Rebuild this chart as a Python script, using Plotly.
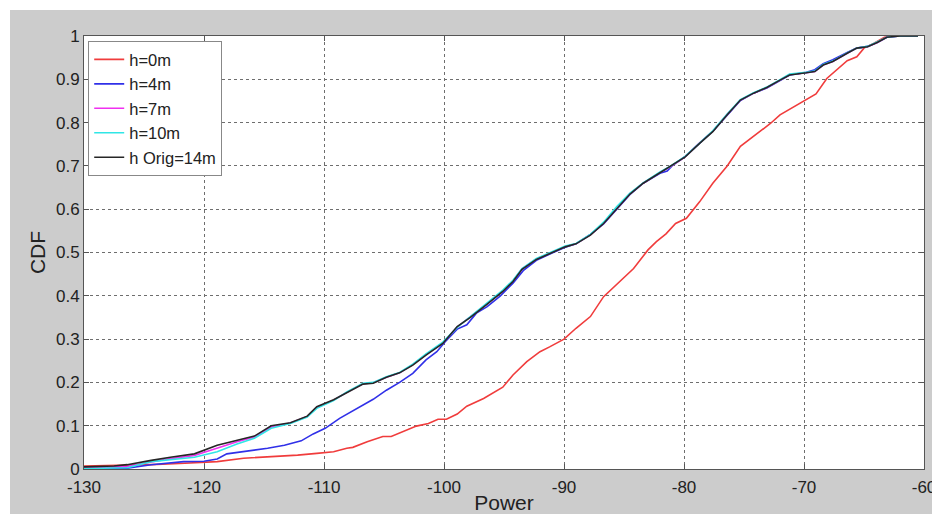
import plotly.graph_objects as go

# Received power and empirical CDF for each antenna height
power_h0 = [-130, -126.4, -124.4, -122.5, -120, -118.9, -116.7, -114.4, -112.2, -110.6,
            -109.2, -108.1, -107.6, -106.4, -105.1, -104.4, -103.4, -102.3, -101.3, -100.5,
            -99.8, -98.9, -98.1, -96.7, -95.1, -94.25, -93.1, -92, -91.2, -90,
            -89, -87.8, -86.7, -85.3, -84.2, -83, -82.3, -81.5, -80.7, -79.8,
            -78.7, -77.6, -76.4, -75.3, -74.1, -72.8, -72, -70.9, -69.8, -69,
            -68.1, -67.3, -66.4, -65.6, -65, -64.2, -63.3, -62.5, -60.5]
cdf_h0 = [0.007, 0.008, 0.01, 0.012, 0.015, 0.017, 0.025, 0.028, 0.032, 0.036,
          0.04, 0.048, 0.05, 0.063, 0.075, 0.075, 0.086, 0.099, 0.105, 0.115,
          0.115, 0.127, 0.145, 0.163, 0.189, 0.217, 0.248, 0.271, 0.282, 0.30,
          0.325, 0.352, 0.398, 0.435, 0.463, 0.506, 0.525, 0.543, 0.567, 0.579,
          0.617, 0.66, 0.70, 0.745, 0.771, 0.798, 0.818, 0.835, 0.852, 0.866,
          0.902, 0.921, 0.943, 0.952, 0.972, 0.983, 0.997, 1.0, 1.0]

power_h4 = [-130, -126.4, -124.4, -121.7, -120, -118.9, -118.1, -116.7, -114.7, -113.3,
            -111.9, -110.9, -109.9, -108.7, -107.3, -105.9, -104.8, -103.7, -102.6, -101.5,
            -100.6, -99.9, -98.9, -98.1, -97.3, -96.4, -95.3, -94.25, -93.4, -92.3,
            -90.9, -89.9, -89, -87.8, -86.7, -85.6, -84.5, -83.4, -82, -81.4,
            -81, -79.9, -78.7, -77.6, -76.4, -75.3, -74.2, -73.1, -72, -71.2,
            -69.8, -69.1, -68.4, -67.6, -66.4, -65.6, -64.7, -63.9, -63.1, -62, -60.5]
cdf_h4 = [0.002, 0.002, 0.01, 0.017, 0.018, 0.023, 0.035, 0.04, 0.048, 0.055,
          0.065, 0.081, 0.094, 0.117, 0.14, 0.161, 0.182, 0.2, 0.221, 0.252,
          0.271, 0.294, 0.323, 0.333, 0.36, 0.375, 0.4, 0.429, 0.458, 0.482,
          0.5, 0.512, 0.52, 0.542, 0.566, 0.6, 0.634, 0.66, 0.683, 0.688,
          0.70, 0.722, 0.753, 0.78, 0.817, 0.851, 0.868, 0.88, 0.897, 0.91,
          0.916, 0.922, 0.936, 0.945, 0.962, 0.972, 0.976, 0.985, 0.997, 1.0, 1.0]

power_h7_h10 = [-130, -126.4, -124.4, -122.8, -120.8, -118.9, -117.25, -115.8, -114.4, -112.8,
                -111.4, -110.6, -109.2, -108.1, -106.75, -105.9, -104.8, -103.7, -102.6, -101.5,
                -100.1, -98.9, -97.8, -96.4, -95.1, -94.25, -93.5, -92.3, -90.9, -89.9,
                -89, -87.8, -86.7, -85.6, -84.5, -83.4, -82, -81.2, -79.9, -78.7,
                -77.6, -76.4, -75.3, -74.2, -73.1, -72, -71.2, -69.8, -69.1, -68.4,
                -67.6, -66.4, -65.6, -64.7, -63.9, -63.1, -62, -60.5]
cdf_h7 = [0.003, 0.006, 0.016, 0.024, 0.031, 0.048, 0.063, 0.074, 0.097, 0.106,
          0.121, 0.142, 0.159, 0.177, 0.197, 0.199, 0.212, 0.222, 0.241, 0.264,
          0.291, 0.328, 0.351, 0.382, 0.411, 0.434, 0.462, 0.485, 0.502, 0.514,
          0.52, 0.541, 0.568, 0.603, 0.636, 0.66, 0.685, 0.697, 0.721, 0.753,
          0.78, 0.819, 0.852, 0.868, 0.881, 0.898, 0.911, 0.915, 0.918, 0.933,
          0.941, 0.96, 0.972, 0.975, 0.985, 0.997, 1.0, 1.0]
cdf_h10 = [0.001, 0.003, 0.017, 0.022, 0.027, 0.04, 0.058, 0.071, 0.094, 0.105,
           0.12, 0.14, 0.158, 0.178, 0.198, 0.2, 0.213, 0.223, 0.242, 0.266,
           0.293, 0.327, 0.352, 0.384, 0.413, 0.436, 0.463, 0.486, 0.503, 0.515,
           0.521, 0.542, 0.57, 0.606, 0.637, 0.661, 0.686, 0.698, 0.722, 0.754,
           0.781, 0.82, 0.853, 0.869, 0.882, 0.899, 0.912, 0.916, 0.919, 0.934,
           0.942, 0.961, 0.972, 0.976, 0.986, 0.997, 1.0, 1.0]

power_h14 = [-130, -127.5, -126.4, -125.2, -124.4, -122.8, -120.8, -118.9, -117.25, -115.8,
             -114.4, -112.8, -111.4, -110.6, -109.2, -108.1, -106.75, -105.9, -104.8, -103.7,
             -102.6, -101.5, -100.1, -98.9, -97.8, -96.4, -95.1, -94.25, -93.5, -92.3,
             -90.9, -89.9, -89, -87.8, -86.7, -85.6, -84.5, -83.4, -82, -81.2,
             -79.9, -78.7, -77.6, -76.4, -75.3, -74.2, -73.1, -72, -71.2, -69.8,
             -69.1, -68.4, -67.6, -66.4, -65.6, -64.7, -63.9, -63.1, -62, -60.5]
cdf_h14 = [0.005, 0.007, 0.01, 0.015, 0.02, 0.027, 0.035, 0.055, 0.067, 0.076,
           0.10, 0.107, 0.122, 0.144, 0.16, 0.176, 0.196, 0.198, 0.212, 0.222,
           0.24, 0.263, 0.29, 0.329, 0.35, 0.381, 0.41, 0.433, 0.461, 0.484,
           0.502, 0.513, 0.52, 0.54, 0.567, 0.602, 0.635, 0.66, 0.684, 0.697,
           0.721, 0.752, 0.779, 0.818, 0.852, 0.868, 0.881, 0.898, 0.91, 0.915,
           0.918, 0.933, 0.941, 0.96, 0.972, 0.975, 0.985, 0.997, 1.0, 1.0]

# Axis tick positions and labels (plain hyphen for negative numbers)
x_tick_vals = [-130, -120, -110, -100, -90, -80, -70, -60]
x_tick_text = ["-130", "-120", "-110", "-100", "-90", "-80", "-70", "-60"]
y_tick_vals = [0, 0.1, 0.2, 0.3, 0.4, 0.5, 0.6, 0.7, 0.8, 0.9, 1]
y_tick_text = ["0", "0.1", "0.2", "0.3", "0.4", "0.5", "0.6", "0.7", "0.8", "0.9", "1"]

series = [
    ("h=0m", power_h0, cdf_h0, "#f03c3c"),
    ("h=4m", power_h4, cdf_h4, "#3030e8"),
    ("h=7m", power_h7_h10, cdf_h7, "#f030f0"),
    ("h=10m", power_h7_h10, cdf_h10, "#30e6e6"),
    ("h Orig=14m", power_h14, cdf_h14, "#262626"),
]

FONT = "Liberation Sans, Arial, sans-serif"
TEXT = "#222222"
BG = "#cccccc"

fig = go.Figure()
for name, xs, ys, color in series:
    fig.add_trace(go.Scatter(x=xs, y=ys, mode="lines", name=name,
                             line=dict(color=color, width=1.6)))

axis_common = dict(
    showline=True, linecolor="#555555", linewidth=1, mirror="ticks",
    ticks="inside", ticklen=5, tickcolor="#555555",
    showgrid=True, gridcolor="#6e6e6e", gridwidth=1, griddash="dot",
    zeroline=False, tickmode="array", ticklabeloverflow="allow",
    automargin=False,
    tickfont=dict(family=FONT, size=17, color=TEXT),
)

fig.update_layout(
    width=932, height=514,
    margin=dict(l=84, r=8, t=36, b=45),
    paper_bgcolor=BG, plot_bgcolor="white",
    font=dict(family=FONT, color=TEXT),
    xaxis=dict(range=[-130, -60], tickvals=x_tick_vals, ticktext=x_tick_text,
               ticklabelstandoff=3,
               title=dict(text="Power", font=dict(family=FONT, size=21, color=TEXT), standoff=4),
               **axis_common),
    yaxis=dict(range=[0, 1], tickvals=y_tick_vals, ticktext=y_tick_text,
               title=dict(text="CDF", font=dict(family=FONT, size=21, color=TEXT), standoff=4),
               **axis_common),
    legend=dict(x=0.005, y=0.988, xanchor="left", yanchor="top",
                bgcolor="white", bordercolor="#888888", borderwidth=1,
                font=dict(family=FONT, size=16.5, color=TEXT),
                tracegroupgap=0, itemwidth=30),
    showlegend=True,
    shapes=[
        # thin white border along the top and left edges of the canvas
        dict(type="rect", xref="paper", yref="paper", x0=-0.11, x1=1.02,
             y0=1.060, y1=1.10, fillcolor="white", line=dict(width=0), layer="below"),
        dict(type="rect", xref="paper", yref="paper", x0=-0.11, x1=-0.0881,
             y0=-0.12, y1=1.10, fillcolor="white", line=dict(width=0), layer="below"),
    ],
)

fig.write_html("out.html")
